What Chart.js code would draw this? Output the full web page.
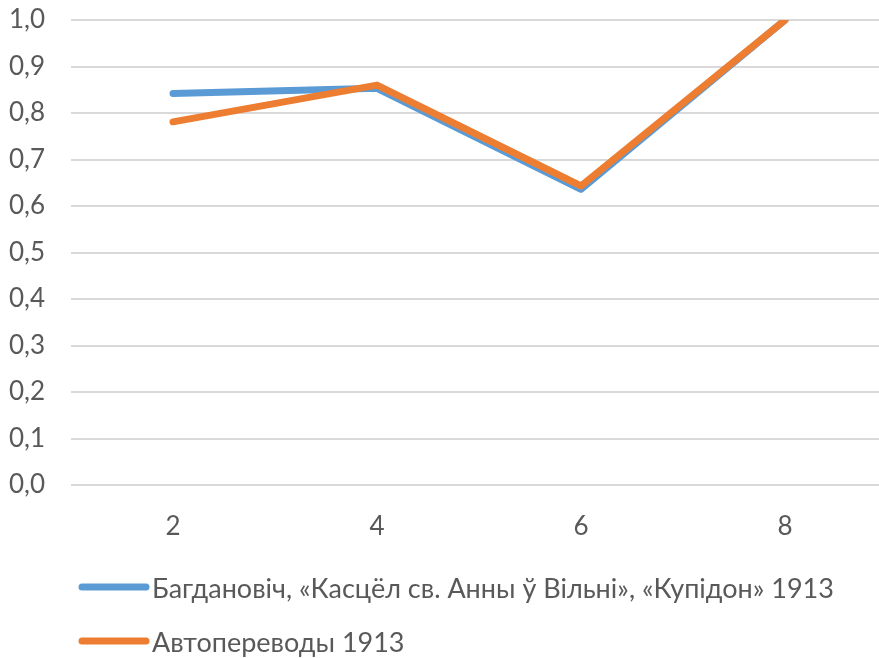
<!DOCTYPE html>
<html>
<head>
<meta charset="utf-8">
<script src="https://cdn.jsdelivr.net/npm/chart.js@4/dist/chart.umd.min.js"></script>
<style>
  html, body { margin: 0; padding: 0; background: #fff; overflow: hidden; }
  #wrap { width: 887px; height: 658px; }
</style>
</head>
<body>
<div id="wrap"><canvas id="c" width="887" height="658"></canvas></div>
<script>
// Categories along the x axis
const categories = ['2', '4', '6', '8'];
// Series values
const seriesNames = [
  'Багдановіч, «Касцёл св. Анны ў Вільні», «Купідон» 1913',
  'Автопереводы 1913'
];
const bogdanovichValues = [0.842, 0.853, 0.636, 1.0];
const autoTranslationValues = [0.781, 0.860, 0.643, 1.0];
// Y tick range
const yMin = 0, yMax = 1, yStep = 0.1;

const FONT = 'Lato, "Open Sans", sans-serif';
const TEXT = '#595959';
const COLORS = ['#5B9BD5', '#ED7D31'];

// Legend drawn below the plot, one entry per row
const rowLegend = {
  id: 'rowLegend',
  afterDraw(chart) {
    const ctx = chart.ctx;
    const rows = [589, 643];
    ctx.save();
    chart.data.datasets.forEach((ds, i) => {
      const y = rows[i];
      ctx.strokeStyle = ds.borderColor;
      ctx.lineWidth = 7;
      ctx.lineCap = 'round';
      ctx.beginPath();
      ctx.moveTo(82, y - 2);
      ctx.lineTo(146, y - 2);
      ctx.stroke();
      ctx.fillStyle = TEXT;
      ctx.font = '27px ' + FONT;
      ctx.textBaseline = 'middle';
      ctx.textAlign = 'left';
      ctx.fillText(ds.label, 152, y);
    });
    ctx.restore();
  }
};

new Chart(document.getElementById('c'), {
  type: 'line',
  data: {
    labels: categories,
    datasets: [
      { label: seriesNames[0], data: bogdanovichValues, borderColor: COLORS[0], backgroundColor: COLORS[0], order: 1 },
      { label: seriesNames[1], data: autoTranslationValues, borderColor: COLORS[1], backgroundColor: COLORS[1], order: 0 }
    ]
  },
  options: {
    responsive: false,
    animation: false,
    devicePixelRatio: 1,
    layout: { padding: { top: 20, right: 0, bottom: 0, left: 0 } },
    elements: {
      line: { borderWidth: 7, tension: 0, borderCapStyle: 'round', borderJoinStyle: 'round' },
      point: { radius: 0, hoverRadius: 0 }
    },
    plugins: { legend: { display: false }, tooltip: { enabled: false } },
    scales: {
      x: {
        offset: true,
        grid: { display: false, drawTicks: false },
        border: { display: false },
        ticks: { color: TEXT, font: { family: FONT, size: 26 }, padding: 26, maxRotation: 0 },
        afterFit(scale) { scale.height = 173; }
      },
      y: {
        min: yMin, max: yMax,
        grid: { color: '#d9d9d9', lineWidth: 2, drawTicks: false },
        border: { display: false },
        ticks: {
          stepSize: yStep,
          color: TEXT,
          font: { family: FONT, size: 26 },
          padding: 26,
          callback: v => v.toFixed(1).replace('.', ',')
        },
        afterFit(scale) {
          scale.width = 71;
          scale.paddingTop = 0;
          scale.paddingBottom = 0;
        }
      }
    }
  },
  plugins: [rowLegend]
});
</script>
</body>
</html>
